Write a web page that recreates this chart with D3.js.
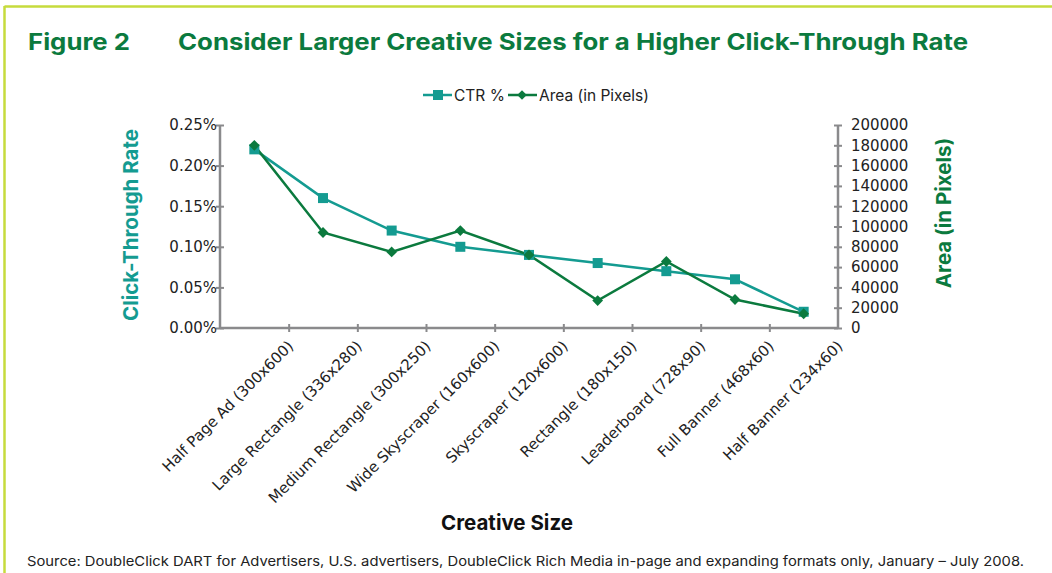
<!DOCTYPE html>
<html><head><meta charset="utf-8">
<script src="https://cdn.jsdelivr.net/npm/d3@7"></script>
<style>
body{margin:0;background:#fff;}
svg{display:block;}
</style></head>
<body>
<script>
const categories = ["Half Page Ad (300x600)","Large Rectangle (336x280)","Medium Rectangle (300x250)","Wide Skyscraper (160x600)","Skyscraper (120x600)","Rectangle (180x150)","Leaderboard (728x90)","Full Banner (468x60)","Half Banner (234x60)"];
const ctrPercent = [0.22,0.16,0.12,0.10,0.09,0.08,0.07,0.06,0.02];
const areaPixels = [180000,94080,75000,96000,72000,27000,65520,28080,14040];
const leftTicks = [0,0.05,0.10,0.15,0.20,0.25];
const rightTicks = [0,20000,40000,60000,80000,100000,120000,140000,160000,180000,200000];

const W=1052,H=573;
const teal="#149b91", dgreen="#0b7a3e", axisGray="#8a8a8c", border="#c6db3c";
const svg=d3.select("body").append("svg").attr("width",W).attr("height",H);

// border
svg.append("line").attr("x1",4.5).attr("x2",W).attr("y1",6.5).attr("y2",6.5).attr("stroke",border).attr("stroke-width",2.5);
svg.append("line").attr("x1",4.5).attr("x2",4.5).attr("y1",6).attr("y2",H).attr("stroke",border).attr("stroke-width",2.5);

const sans="Inter, 'Open Sans', sans-serif";
// titles
svg.append("text").attr("x",28).attr("y",50).text("Figure 2")
  .attr("font-family",sans).attr("font-weight",700).attr("font-size",23).attr("fill",dgreen)
  .attr("textLength",102).attr("lengthAdjust","spacingAndGlyphs");
svg.append("text").attr("x",178).attr("y",50).text("Consider Larger Creative Sizes for a Higher Click-Through Rate")
  .attr("font-family",sans).attr("font-weight",700).attr("font-size",23).attr("fill",dgreen)
  .attr("textLength",790).attr("lengthAdjust","spacingAndGlyphs");

const x0=220,x1=838,yTop=125,yBot=328;
const x=d3.scaleBand().domain(categories).range([x0,x1]);
const yL=d3.scaleLinear().domain([0,0.25]).range([yBot,yTop]);
const yR=d3.scaleLinear().domain([0,200000]).range([yBot,yTop]);
const cx=d=>x(d)+x.bandwidth()/2;

const tickFont="'DejaVu Sans', Verdana, sans-serif";

// left axis
const gL=svg.append("g").attr("transform",`translate(${x0},0)`)
  .call(d3.axisLeft(yL).tickValues(leftTicks).tickFormat(d=>d.toFixed(2)+"%").tickSize(4));
// right axis
const gR=svg.append("g").attr("transform",`translate(${x1},0)`)
  .call(d3.axisRight(yR).tickValues(rightTicks).tickFormat(d=>String(d)).tickSize(4));
// bottom axis (tick marks at category boundaries)
const xb=d3.scaleLinear().domain([0,categories.length]).range([x0,x1]);
const gB=svg.append("g").attr("transform",`translate(0,${yBot})`)
  .call(d3.axisBottom(xb).tickValues(d3.range(1,categories.length)).tickFormat("").tickSize(4).tickSizeOuter(0));

[gL,gR].forEach(g=>{
  g.select(".domain").remove();
  g.selectAll(".tick line").attr("x1",-4).attr("x2",4).attr("stroke",axisGray).attr("stroke-width",2);
  g.selectAll("text").attr("font-family",tickFont).attr("font-size",15).attr("fill","#222");
});
gL.selectAll("text").attr("x",-3);
gR.selectAll("text").attr("x",13);
gB.select(".domain").remove();
gB.selectAll(".tick line").attr("y1",-4).attr("y2",4).attr("stroke",axisGray).attr("stroke-width",2);
svg.append("line").attr("x1",x0).attr("x2",x0).attr("y1",yTop).attr("y2",yBot).attr("stroke",axisGray).attr("stroke-width",2.5);
svg.append("line").attr("x1",x1).attr("x2",x1).attr("y1",yTop).attr("y2",yBot).attr("stroke",axisGray).attr("stroke-width",2.5);
svg.append("line").attr("x1",x0).attr("x2",x1).attr("y1",yBot).attr("y2",yBot).attr("stroke",axisGray).attr("stroke-width",2.5);

// category labels
svg.append("g").selectAll("text").data(categories).join("text")
  .attr("transform",d=>`translate(${cx(d)+40},${yBot+19}) rotate(-45)`)
  .attr("text-anchor","end").attr("font-family",tickFont).attr("font-size",15).attr("fill","#222")
  .text(d=>d);

// lines
const ctrData=categories.map((c,i)=>({c,v:ctrPercent[i]}));
const areaData=categories.map((c,i)=>({c,v:areaPixels[i]}));
svg.append("path").datum(ctrData).attr("fill","none").attr("stroke",teal).attr("stroke-width",2.5)
  .attr("d",d3.line().x(d=>cx(d.c)).y(d=>yL(d.v)));
svg.append("path").datum(areaData).attr("fill","none").attr("stroke",dgreen).attr("stroke-width",2.5)
  .attr("d",d3.line().x(d=>cx(d.c)).y(d=>yR(d.v)));
svg.append("g").selectAll("rect").data(ctrData).join("rect")
  .attr("x",d=>cx(d.c)-5).attr("y",d=>yL(d.v)-5).attr("width",10).attr("height",10).attr("fill",teal);
svg.append("g").selectAll("path").data(areaData).join("path")
  .attr("d",d3.symbol(d3.symbolSquare,58)).attr("transform",d=>`translate(${cx(d.c)},${yR(d.v)}) rotate(45)`).attr("fill",dgreen);

// legend
const lg=svg.append("g").attr("font-family",sans).attr("font-size",15.5).attr("fill","#222");
lg.append("line").attr("x1",423).attr("x2",452).attr("y1",95).attr("y2",95).attr("stroke",teal).attr("stroke-width",2.5);
lg.append("rect").attr("x",433).attr("y",90).attr("width",10).attr("height",10).attr("fill",teal);
lg.append("text").attr("x",454).attr("y",100.5).text("CTR %");
lg.append("line").attr("x1",508).attr("x2",537).attr("y1",95).attr("y2",95).attr("stroke",dgreen).attr("stroke-width",2.5);
lg.append("path").attr("d",d3.symbol(d3.symbolSquare,45)).attr("transform","translate(522,95) rotate(45)").attr("fill",dgreen);
lg.append("text").attr("x",539).attr("y",100.5).text("Area (in Pixels)");

// axis titles
svg.append("text").attr("transform","translate(138,225) rotate(-90)").attr("text-anchor","middle")
  .attr("font-family",sans).attr("font-weight",700).attr("font-size",20.5).attr("fill",teal)
  .text("Click-Through Rate");
svg.append("text").attr("transform","translate(951,213) rotate(-90)").attr("text-anchor","middle")
  .attr("font-family",sans).attr("font-weight",700).attr("font-size",20.5).attr("fill",dgreen)
  .text("Area (in Pixels)");
svg.append("text").attr("x",507).attr("y",530).attr("text-anchor","middle")
  .attr("font-family",sans).attr("font-weight",700).attr("font-size",20.5).attr("fill","#111")
  .text("Creative Size");

// source
svg.append("text").attr("x",27).attr("y",566)
  .attr("font-family",sans).attr("font-size",13.5).attr("fill","#222")
  .attr("textLength",997).attr("lengthAdjust","spacingAndGlyphs")
  .text("Source: DoubleClick DART for Advertisers, U.S. advertisers, DoubleClick Rich Media in-page and expanding formats only, January – July 2008.");
</script>
</body></html>
